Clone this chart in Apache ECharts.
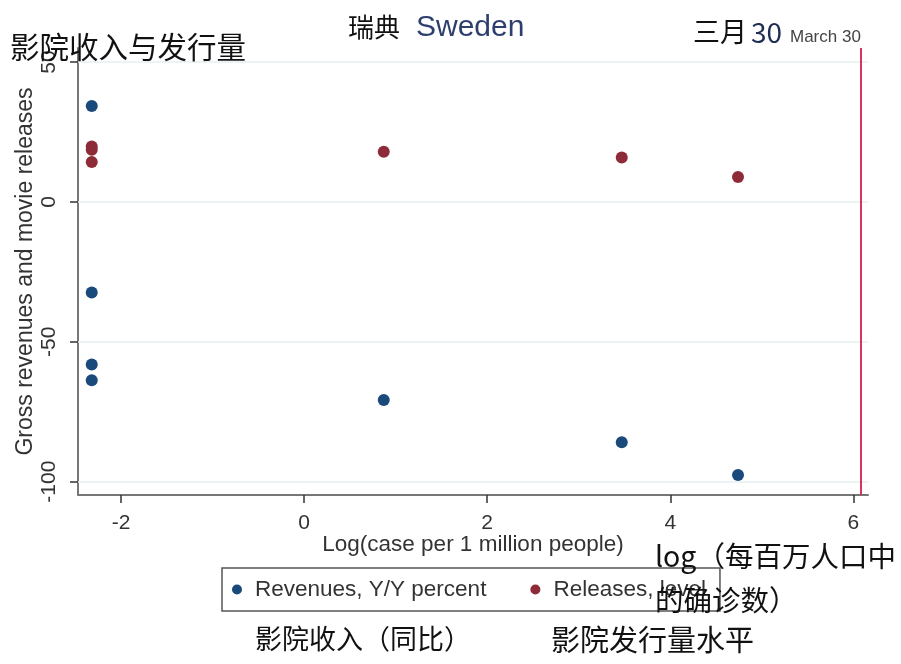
<!DOCTYPE html>
<html>
<head>
<meta charset="utf-8">
<script src="https://cdn.jsdelivr.net/npm/echarts@6/dist/echarts.min.js"></script>
<style>
  html, body { margin: 0; padding: 0; background: #fff; }
  #main { width: 901px; height: 664px; }
</style>
</head>
<body>
<div id="main"></div>
<script>
// 数据
var revX = [-2.32, -2.32, -2.32, -2.32, 0.87, 3.47, 4.74];
var revY = [34.3, -32.4, -58.1, -63.7, -70.8, -85.9, -97.6];
var relX = [-2.32, -2.32, -2.32, 0.87, 3.47, 4.74];
var relY = [19.8, 18.6, 14.3, 17.9, 15.9, 8.9];
var xTicks = [-2, 0, 2, 4, 6];
var yTicks = [50, 0, -50, -100];
var marchX = 6.08;

var chart = echarts.init(document.getElementById('main'));

function pairs(xs, ys) {
    var out = [];
    for (var i = 0; i < xs.length; i++) {
        out.push([xs[i], ys[i]]);
    }
    return out;
}

var gridLines = [];
for (var i = 0; i < yTicks.length; i++) {
    gridLines.push({yAxis: yTicks[i]});
}

var cjk = '"Noto Sans CJK SC", sans-serif';
var latin = '"Liberation Sans", Arial, sans-serif';

var option = {
    animation: false,
    backgroundColor: '#fff',
    grid: {left: 78, right: 33, top: 48, bottom: 169},
    legend: {
        left: 222, top: 568,
        orient: 'horizontal',
        borderColor: '#555', borderWidth: 1.5,
        padding: [10, 14, 10, 10],
        itemWidth: 10, itemHeight: 10, itemGap: 44,
        icon: 'circle',
        textStyle: {fontFamily: latin, fontSize: 22.5, color: '#333', padding: [0, 0, 0, 8]},
        data: ['Revenues, Y/Y percent', 'Releases, level']
    },
    xAxis: {
        type: 'value',
        min: -2.47, max: 6.16,
        name: 'Log(case per 1 million people)',
        nameLocation: 'middle', nameGap: 38, nameMoveOverlap: false,
        nameTextStyle: {fontFamily: latin, fontSize: 22.5, color: '#333'},
        axisLine: {show: true, onZero: false, lineStyle: {color: '#777', width: 2}},
        axisTick: {show: true, length: 8, customValues: xTicks, lineStyle: {color: '#333', width: 1.5}},
        axisLabel: {customValues: xTicks, fontFamily: latin, fontSize: 21, color: '#333', margin: 18},
        splitLine: {show: false}
    },
    yAxis: {
        type: 'value',
        min: -104.75, max: 55,
        name: 'Gross revenues and movie releases',
        nameLocation: 'middle', nameGap: 41, nameMoveOverlap: false,
        nameTextStyle: {fontFamily: latin, fontSize: 23, color: '#333'},
        axisLine: {show: true, onZero: false, lineStyle: {color: '#777', width: 2}},
        axisTick: {show: true, length: 8, customValues: yTicks, lineStyle: {color: '#333', width: 1.5}},
        axisLabel: {customValues: yTicks, rotate: 90, fontFamily: latin, fontSize: 21, color: '#333', margin: 18},
        splitLine: {show: false}
    },
    series: [
        {
            name: 'Revenues, Y/Y percent',
            type: 'scatter',
            symbolSize: 12,
            itemStyle: {color: '#1a4a7c', opacity: 1},
            data: pairs(revX, revY),
            markLine: {
                silent: true, symbol: 'none', label: {show: false},
                lineStyle: {color: '#e6eff1', width: 1.5, type: 'solid'},
                data: gridLines,
                z: 1
            },
            z: 3
        },
        {
            name: 'Releases, level',
            type: 'scatter',
            symbolSize: 12,
            itemStyle: {color: '#8e2b38', opacity: 1},
            data: pairs(relX, relY),
            markLine: {
                silent: true, symbol: 'none', label: {show: false},
                lineStyle: {color: '#d81f4c', width: 1.8, type: 'solid'},
                data: [{xAxis: marchX}]
            },
            z: 3
        }
    ],
    graphic: [
        {type: 'text', left: 10, top: 32, z: 100, style: {text: '影院收入与发行量', font: '29.5px ' + cjk, fill: '#111'}},
        {type: 'text', left: 348, top: 14, z: 100, style: {text: '瑞典', font: '26px ' + cjk, fill: '#111'}},
        {type: 'text', left: 416, top: 13, z: 100, style: {text: 'Sweden', font: '30px ' + latin, fill: '#2e3f6e'}},
        {type: 'text', left: 693, top: 18, z: 100, style: {text: '三月', font: '27px ' + cjk, fill: '#111'}},
        {type: 'text', left: 751, top: 18, z: 100, style: {text: '30', font: '28px ' + cjk, fill: '#1f2d55'}},
        {type: 'text', left: 790, top: 29, z: 100, style: {text: 'March 30', font: '17px ' + latin, fill: '#444'}},
        {type: 'text', left: 655, top: 542, z: 100, style: {text: 'log（每百万人口中', font: '28.5px ' + cjk, fill: '#111'}},
        {type: 'text', left: 655, top: 586, z: 100, style: {text: '的确诊数）', font: '28.5px ' + cjk, fill: '#111'}},
        {type: 'text', left: 255, top: 625, z: 100, style: {text: '影院收入（同比）', font: '27px ' + cjk, fill: '#111'}},
        {type: 'text', left: 551, top: 625, z: 100, style: {text: '影院发行量水平', font: '29px ' + cjk, fill: '#111'}}
    ]
};

chart.setOption(option);
</script>
</body>
</html>
